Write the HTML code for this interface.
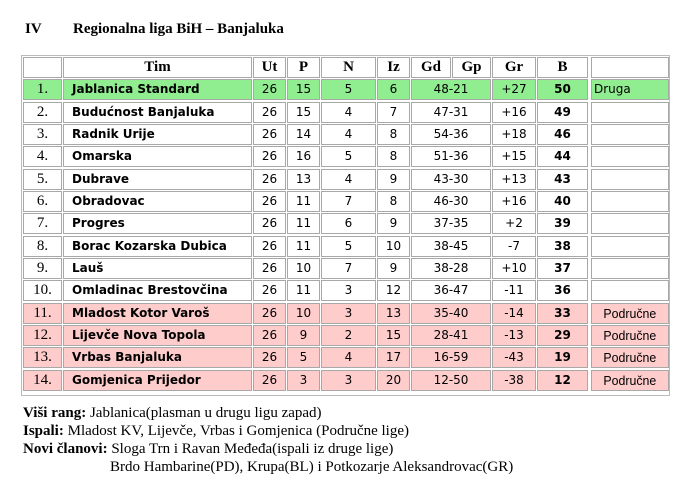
<!DOCTYPE html>
<html><head><meta charset="utf-8"><style>
body{margin:0;width:694px;height:501px;background:#fff;position:relative;overflow:hidden;font-family:"Liberation Serif",serif;color:#000}
.t{position:absolute;font-weight:bold;font-size:15px;top:21px}
.frame{position:absolute;left:21px;top:55px;width:647px;height:339px;border:1px solid #bbb}
.r{position:absolute;left:0;height:21px}
.r div{position:absolute;top:0;height:19px;border:1px solid #a8a8a8;box-sizing:content-box;line-height:19px;text-align:center;font-family:"DejaVu Sans",sans-serif;font-size:12px;white-space:nowrap}
.r .a{left:23px;width:37px;font-family:"Liberation Serif",serif;font-size:15px}
.r .b{left:63px;width:187px;text-align:left;font-weight:bold;text-indent:8px}
.r .c{left:253px;width:31px}
.r .d{left:287px;width:31px}
.r .e{left:321px;width:53px}
.r .f{left:377px;width:31px}
.r .g{left:411px;width:78px}
.r .h{left:492px;width:42px}
.r .i{left:537px;width:49px;font-weight:bold}
.r .j{left:591px;width:76px}
.hd div{font-family:"Liberation Serif",serif;font-weight:bold;font-size:15px}
.hd .g1{left:411px;width:38px}
.hd .g2{left:452px;width:37px}
.gr div{background:#90ee90}
.pk div{background:#ffcccc}
.pk .j{font-family:"Liberation Sans",sans-serif;font-size:13px}
.pk .j span{display:inline-block;transform:scaleX(.95)}
.ft{position:absolute;left:23px;font-size:15px;line-height:18px;white-space:nowrap}
</style></head><body>
<div class="t" style="left:25px">IV</div>
<div class="t" style="left:73px">Regionalna liga BiH – Banjaluka</div>
<div class="frame"></div>
<div class="r hd" style="top:57px"><div class="a"></div><div class="b" style="text-align:center;text-indent:0;font-family:'Liberation Serif',serif">Tim</div><div class="c">Ut</div><div class="d">P</div><div class="e">N</div><div class="f">Iz</div><div class="g1">Gd</div><div class="g2">Gp</div><div class="h">Gr</div><div class="i">B</div><div class="j"></div></div>
<div class="r gr" style="top:79px"><div class="a">1.</div><div class="b">Jablanica Standard</div><div class="c">26</div><div class="d">15</div><div class="e">5</div><div class="f">6</div><div class="g">48-21</div><div class="h">+27</div><div class="i">50</div><div class="j" style="text-align:left;text-indent:2px">Druga</div></div>
<div class="r" style="top:101.5px"><div class="a">2.</div><div class="b">Budućnost Banjaluka</div><div class="c">26</div><div class="d">15</div><div class="e">4</div><div class="f">7</div><div class="g">47-31</div><div class="h">+16</div><div class="i">49</div><div class="j"></div></div>
<div class="r" style="top:124px"><div class="a">3.</div><div class="b">Radnik Urije</div><div class="c">26</div><div class="d">14</div><div class="e">4</div><div class="f">8</div><div class="g">54-36</div><div class="h">+18</div><div class="i">46</div><div class="j"></div></div>
<div class="r" style="top:146px"><div class="a">4.</div><div class="b">Omarska</div><div class="c">26</div><div class="d">16</div><div class="e">5</div><div class="f">8</div><div class="g">51-36</div><div class="h">+15</div><div class="i">44</div><div class="j"></div></div>
<div class="r" style="top:168.5px"><div class="a">5.</div><div class="b">Dubrave</div><div class="c">26</div><div class="d">13</div><div class="e">4</div><div class="f">9</div><div class="g">43-30</div><div class="h">+13</div><div class="i">43</div><div class="j"></div></div>
<div class="r" style="top:191px"><div class="a">6.</div><div class="b">Obradovac</div><div class="c">26</div><div class="d">11</div><div class="e">7</div><div class="f">8</div><div class="g">46-30</div><div class="h">+16</div><div class="i">40</div><div class="j"></div></div>
<div class="r" style="top:213px"><div class="a">7.</div><div class="b">Progres</div><div class="c">26</div><div class="d">11</div><div class="e">6</div><div class="f">9</div><div class="g">37-35</div><div class="h">+2</div><div class="i">39</div><div class="j"></div></div>
<div class="r" style="top:235.5px"><div class="a">8.</div><div class="b">Borac Kozarska Dubica</div><div class="c">26</div><div class="d">11</div><div class="e">5</div><div class="f">10</div><div class="g">38-45</div><div class="h">-7</div><div class="i">38</div><div class="j"></div></div>
<div class="r" style="top:258px"><div class="a">9.</div><div class="b">Lauš</div><div class="c">26</div><div class="d">10</div><div class="e">7</div><div class="f">9</div><div class="g">38-28</div><div class="h">+10</div><div class="i">37</div><div class="j"></div></div>
<div class="r" style="top:280px"><div class="a">10.</div><div class="b">Omladinac Brestovčina</div><div class="c">26</div><div class="d">11</div><div class="e">3</div><div class="f">12</div><div class="g">36-47</div><div class="h">-11</div><div class="i">36</div><div class="j"></div></div>
<div class="r pk" style="top:302.5px"><div class="a">11.</div><div class="b">Mladost Kotor Varoš</div><div class="c">26</div><div class="d">10</div><div class="e">3</div><div class="f">13</div><div class="g">35-40</div><div class="h">-14</div><div class="i">33</div><div class="j"><span>Područne</span></div></div>
<div class="r pk" style="top:325px"><div class="a">12.</div><div class="b">Lijevče Nova Topola</div><div class="c">26</div><div class="d">9</div><div class="e">2</div><div class="f">15</div><div class="g">28-41</div><div class="h">-13</div><div class="i">29</div><div class="j"><span>Područne</span></div></div>
<div class="r pk" style="top:347px"><div class="a">13.</div><div class="b">Vrbas Banjaluka</div><div class="c">26</div><div class="d">5</div><div class="e">4</div><div class="f">17</div><div class="g">16-59</div><div class="h">-43</div><div class="i">19</div><div class="j"><span>Područne</span></div></div>
<div class="r pk" style="top:369.5px"><div class="a">14.</div><div class="b">Gomjenica Prijedor</div><div class="c">26</div><div class="d">3</div><div class="e">3</div><div class="f">20</div><div class="g">12-50</div><div class="h">-38</div><div class="i">12</div><div class="j"><span>Područne</span></div></div>
<div class="ft" style="top:404px"><b>Viši rang:</b> Jablanica(plasman u drugu ligu zapad)</div>
<div class="ft" style="top:422px"><b>Ispali:</b> Mladost KV, Lijevče, Vrbas i Gomjenica (Područne lige)</div>
<div class="ft" style="top:440px"><b>Novi članovi:</b> Sloga Trn i Ravan Međeđa(ispali iz druge lige)</div>
<div class="ft" style="top:458px;left:110px">Brdo Hambarine(PD), Krupa(BL) i Potkozarje Aleksandrovac(GR)</div>
</body></html>
